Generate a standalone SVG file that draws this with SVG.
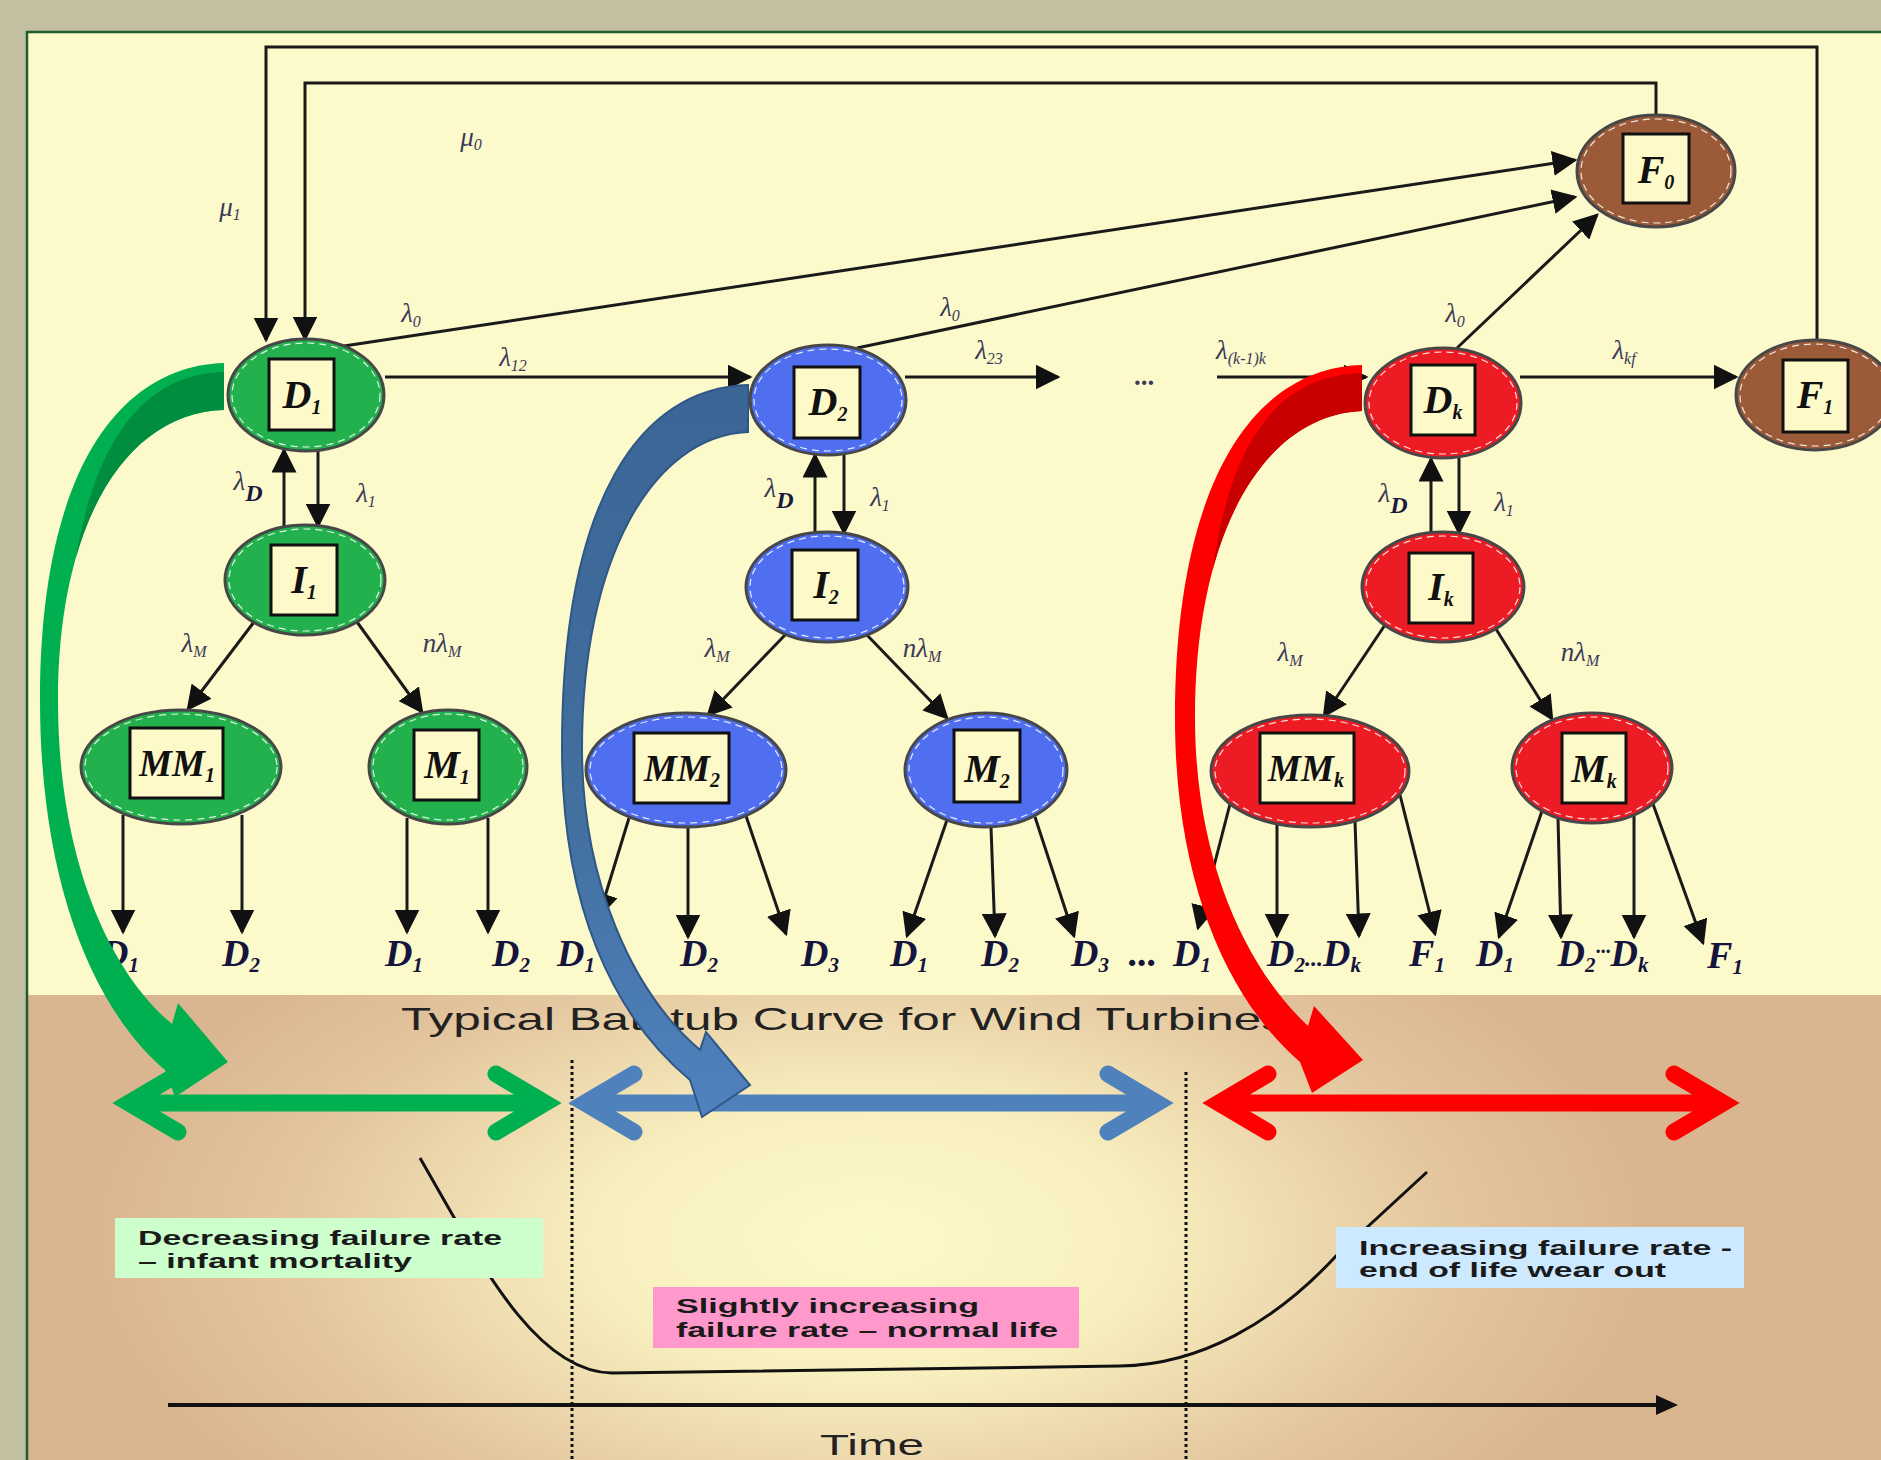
<svg xmlns="http://www.w3.org/2000/svg" width="1881" height="1460" viewBox="0 0 1881 1460">
<defs>
<style>
.ne{stroke:#474747;stroke-width:3}
.g{fill:#22b14c}.b{fill:#4f6ff0}.r{fill:#ed1c24}.br{fill:#9b5a38}
.dash{fill:none;stroke:#ffffff;stroke-width:1.2;stroke-dasharray:7 5;opacity:.85}
.box{fill:#fdf9c9;stroke:#111;stroke-width:3}
.nl{font-family:"Liberation Serif",serif;font-style:italic;font-weight:bold;font-size:40px;text-anchor:middle;fill:#111}
.mm{font-size:37px}
.sub{font-size:20px}
.cn{fill:none;stroke:#1a1a1a;stroke-width:3;marker-end:url(#ah)}
.lab{font-family:"Liberation Serif",serif;font-style:italic;font-size:27px;text-anchor:middle;fill:#3a3a58}
.ls{font-size:16px}
.bl{font-family:"Liberation Serif",serif;font-style:italic;font-weight:bold;font-size:38px;text-anchor:middle;fill:#14143c}
.bs{font-size:21px}
.bt{font-family:"Liberation Sans",Arial,sans-serif;font-weight:bold;font-size:20px;fill:#1a1a1a}
</style>
<marker id="ah" viewBox="0 0 10 10" refX="9" refY="5" markerWidth="25" markerHeight="25" markerUnits="userSpaceOnUse" orient="auto"><path d="M0,0 L10,5 L0,10 z" fill="#111"/></marker>
<radialGradient id="band" gradientUnits="userSpaceOnUse" cx="870" cy="1240" r="780" gradientTransform="translate(870,1240) scale(1,0.5) translate(-870,-1240)">
<stop offset="0" stop-color="#fdfaca"/>
<stop offset="0.35" stop-color="#f8efbe"/>
<stop offset="0.75" stop-color="#e3c59e"/>
<stop offset="1" stop-color="#dab690"/>
</radialGradient>
<linearGradient id="bgrad" gradientUnits="userSpaceOnUse" x1="0" y1="385" x2="0" y2="1117">
<stop offset="0" stop-color="#3b6596"/>
<stop offset="0.6" stop-color="#42709f"/>
<stop offset="1" stop-color="#5082c0"/>
</linearGradient>
</defs>

<rect x="0" y="0" width="1881" height="1460" fill="#c3bfa1"/>
<rect x="27" y="32" width="1854" height="963" fill="#fcf9cb"/>
<rect x="27" y="995" width="1854" height="465" fill="url(#band)"/>
<path d="M27,1460 V32 H1881" fill="none" stroke="#1d5e2c" stroke-width="2.5"/>

<g id="bathtub">
<text x="401" y="1030" font-family="Liberation Sans, Arial, sans-serif" font-size="32" fill="#222" textLength="885" lengthAdjust="spacingAndGlyphs">Typical Bathtub Curve for Wind Turbines</text>
<path d="M420,1158 C480,1262 535,1372 612,1373 L1120,1366 C1200,1365 1275,1322 1336,1256 L1427,1172" fill="none" stroke="#111" stroke-width="3"/>
<rect x="115" y="1218" width="428" height="60" fill="#ccffcc"/>
<text class="bt" x="138" y="1245" textLength="364" lengthAdjust="spacingAndGlyphs">Decreasing failure rate</text>
<text class="bt" x="138" y="1268" textLength="274" lengthAdjust="spacingAndGlyphs">– infant mortality</text>
<rect x="653" y="1287" width="426" height="61" fill="#ff99cc"/>
<text class="bt" x="676" y="1313" textLength="303" lengthAdjust="spacingAndGlyphs">Slightly increasing</text>
<text class="bt" x="676" y="1337" textLength="382" lengthAdjust="spacingAndGlyphs">failure rate – normal life</text>
<rect x="1336" y="1227" width="408" height="61" fill="#cce9ff"/>
<text class="bt" x="1359" y="1255" textLength="373" lengthAdjust="spacingAndGlyphs">Increasing failure rate -</text>
<text class="bt" x="1359" y="1277" textLength="307" lengthAdjust="spacingAndGlyphs">end of life wear out</text>
<path d="M572,1060 V1460 M1186,1072 V1460" fill="none" stroke="#111" stroke-width="3" stroke-dasharray="3 3"/>
<path d="M168,1405 H1660" stroke="#111" stroke-width="4"/>
<path d="M1678,1405 L1656,1395 L1656,1415 Z" fill="#111"/>
<text x="820" y="1455" font-family="Liberation Sans, Arial, sans-serif" font-size="30" fill="#222" textLength="104" lengthAdjust="spacingAndGlyphs">Time</text>
</g>

<g id="connectors">
<path class="cn" stroke="#3a3a3a" d="M1817,340 V47 H266 V340"/>
<path class="cn" stroke="#3a3a3a" d="M1656,115 V83 H305 V339"/>
<path class="cn" d="M344,346 L1575,160"/>
<path class="cn" d="M857,348 L1575,197"/>
<path class="cn" d="M1457,348 L1597,215"/>
<path class="cn" d="M385,377 L750,377"/>
<path class="cn" d="M905,377 L1058,377"/>
<path class="cn" d="M1217,377 L1366,377"/>
<path class="cn" d="M1520,377 L1736,377"/>
<path class="cn" d="M284,527 L284,450"/>
<path class="cn" d="M318,450 L318,526"/>
<path class="cn" d="M815,533 L815,455"/>
<path class="cn" d="M844,455 L844,533"/>
<path class="cn" d="M1431,533 L1431,459"/>
<path class="cn" d="M1459,458 L1459,533"/>
<path class="cn" d="M254,622 L188,709"/>
<path class="cn" d="M357,622 L422,712"/>
<path class="cn" d="M786,634 L708,715"/>
<path class="cn" d="M866,634 L947,718"/>
<path class="cn" d="M1385,625 L1324,716"/>
<path class="cn" d="M1496,629 L1552,719"/>
<path class="cn" d="M123,815 L123,932"/>
<path class="cn" d="M242,815 L242,932"/>
<path class="cn" d="M407,818 L407,932"/>
<path class="cn" d="M488,818 L488,932"/>
<path class="cn" d="M629,818 L599,916"/>
<path class="cn" d="M688,827 L688,937"/>
<path class="cn" d="M746,816 L786,934"/>
<path class="cn" d="M947,820 L907,936"/>
<path class="cn" d="M991,827 L995,936"/>
<path class="cn" d="M1035,817 L1074,936"/>
<path class="cn" d="M1230,804 L1198,928"/>
<path class="cn" d="M1277,824 L1277,936"/>
<path class="cn" d="M1355,821 L1359,936"/>
<path class="cn" d="M1400,795 L1435,934"/>
<path class="cn" d="M1542,811 L1499,937"/>
<path class="cn" d="M1558,818 L1561,937"/>
<path class="cn" d="M1634,815 L1634,937"/>
<path class="cn" d="M1653,804 L1703,943"/>
</g>

<g id="node-D1"><ellipse class="ne g" cx="306" cy="395" rx="78" ry="56"/><ellipse class="dash" cx="306" cy="395" rx="74" ry="52"/><rect class="box" x="269" y="359" width="65" height="71"/><text class="nl" x="302" y="408">D<tspan class="sub" dy="6">1</tspan></text></g>
<g id="node-I1"><ellipse class="ne g" cx="305" cy="580" rx="80" ry="55"/><ellipse class="dash" cx="305" cy="580" rx="76" ry="51"/><rect class="box" x="271" y="545" width="66" height="70"/><text class="nl" x="304" y="593">I<tspan class="sub" dy="6">1</tspan></text></g>
<g id="node-MM1"><ellipse class="ne g" cx="181" cy="767" rx="100" ry="57"/><ellipse class="dash" cx="181" cy="767" rx="96" ry="53"/><rect class="box" x="130" y="728" width="93" height="70"/><text class="nl mm" x="177" y="776">MM<tspan class="sub" dy="6">1</tspan></text></g>
<g id="node-M1"><ellipse class="ne g" cx="448" cy="767" rx="79" ry="57"/><ellipse class="dash" cx="448" cy="767" rx="75" ry="53"/><rect class="box" x="414" y="730" width="65" height="70"/><text class="nl" x="447" y="778">M<tspan class="sub" dy="6">1</tspan></text></g>

<g id="node-D2"><ellipse class="ne b" cx="828" cy="400" rx="78" ry="55"/><ellipse class="dash" cx="828" cy="400" rx="74" ry="51"/><rect class="box" x="794" y="367" width="66" height="71"/><text class="nl" x="828" y="415">D<tspan class="sub" dy="6">2</tspan></text></g>
<g id="node-I2"><ellipse class="ne b" cx="827" cy="587" rx="81" ry="55"/><ellipse class="dash" cx="827" cy="587" rx="77" ry="51"/><rect class="box" x="792" y="550" width="66" height="70"/><text class="nl" x="826" y="598">I<tspan class="sub" dy="6">2</tspan></text></g>
<g id="node-MM2"><ellipse class="ne b" cx="686" cy="770" rx="100" ry="57"/><ellipse class="dash" cx="686" cy="770" rx="96" ry="53"/><rect class="box" x="634" y="733" width="95" height="70"/><text class="nl mm" x="682" y="781">MM<tspan class="sub" dy="6">2</tspan></text></g>
<g id="node-M2"><ellipse class="ne b" cx="986" cy="770" rx="81" ry="57"/><ellipse class="dash" cx="986" cy="770" rx="77" ry="53"/><rect class="box" x="954" y="730" width="66" height="72"/><text class="nl" x="987" y="782">M<tspan class="sub" dy="6">2</tspan></text></g>

<g id="node-Dk"><ellipse class="ne r" cx="1443" cy="403" rx="78" ry="55"/><ellipse class="dash" cx="1443" cy="403" rx="74" ry="51"/><rect class="box" x="1411" y="365" width="64" height="70"/><text class="nl" x="1443" y="413">D<tspan class="sub" dy="6">k</tspan></text></g>
<g id="node-Ik"><ellipse class="ne r" cx="1443" cy="587" rx="81" ry="55"/><ellipse class="dash" cx="1443" cy="587" rx="77" ry="51"/><rect class="box" x="1409" y="553" width="64" height="70"/><text class="nl" x="1441" y="600">I<tspan class="sub" dy="6">k</tspan></text></g>
<g id="node-MMk"><ellipse class="ne r" cx="1310" cy="771" rx="99" ry="56"/><ellipse class="dash" cx="1310" cy="771" rx="95" ry="52"/><rect class="box" x="1260" y="733" width="94" height="70"/><text class="nl mm" x="1306" y="781">MM<tspan class="sub" dy="6">k</tspan></text></g>
<g id="node-Mk"><ellipse class="ne r" cx="1592" cy="768" rx="80" ry="55"/><ellipse class="dash" cx="1592" cy="768" rx="76" ry="51"/><rect class="box" x="1562" y="733" width="64" height="70"/><text class="nl" x="1594" y="782">M<tspan class="sub" dy="6">k</tspan></text></g>

<g id="node-F0"><ellipse class="ne br" cx="1656" cy="171" rx="79" ry="56"/><ellipse class="dash" cx="1656" cy="171" rx="75" ry="52"/><rect class="box" x="1623" y="134" width="66" height="69"/><text class="nl" x="1656" y="183">F<tspan class="sub" dy="6">0</tspan></text></g>
<g id="node-F1"><ellipse class="ne br" cx="1815" cy="395" rx="79" ry="55"/><ellipse class="dash" cx="1815" cy="395" rx="75" ry="51"/><rect class="box" x="1783" y="360" width="65" height="72"/><text class="nl" x="1815" y="408">F<tspan class="sub" dy="6">1</tspan></text></g>

<g id="edge-labels">
<text class="lab" x="471" y="146">μ<tspan class="ls" dy="4">0</tspan></text>
<text class="lab" x="230" y="216">μ<tspan class="ls" dy="4">1</tspan></text>
<text class="lab" x="411" y="322">λ<tspan class="ls" dy="5">0</tspan></text>
<text class="lab" x="513" y="366">λ<tspan class="ls" dy="5">12</tspan></text>
<text class="lab" x="950" y="316">λ<tspan class="ls" dy="5">0</tspan></text>
<text class="lab" x="989" y="359">λ<tspan class="ls" dy="5">23</tspan></text>
<text class="lab" x="1145" y="385" font-weight="bold" font-size="20">...</text>
<text class="lab" x="1241" y="359">λ<tspan class="ls" dy="5">(k-1)k</tspan></text>
<text class="lab" x="1455" y="322">λ<tspan class="ls" dy="5">0</tspan></text>
<text class="lab" x="1624" y="359">λ<tspan class="ls" dy="5">kf</tspan></text>
<text class="lab" x="248" y="490">λ<tspan dy="11" font-weight="bold" font-size="24" fill="#1a1a40">D</tspan></text>
<text class="lab" x="366" y="502">λ<tspan class="ls" dy="5">1</tspan></text>
<text class="lab" x="779" y="497">λ<tspan dy="11" font-weight="bold" font-size="24" fill="#1a1a40">D</tspan></text>
<text class="lab" x="880" y="506">λ<tspan class="ls" dy="5">1</tspan></text>
<text class="lab" x="1393" y="502">λ<tspan dy="11" font-weight="bold" font-size="24" fill="#1a1a40">D</tspan></text>
<text class="lab" x="1504" y="511">λ<tspan class="ls" dy="5">1</tspan></text>
<text class="lab" x="194" y="652">λ<tspan class="ls" dy="5">M</tspan></text>
<text class="lab" x="442" y="652">nλ<tspan class="ls" dy="5">M</tspan></text>
<text class="lab" x="717" y="657">λ<tspan class="ls" dy="5">M</tspan></text>
<text class="lab" x="922" y="657">nλ<tspan class="ls" dy="5">M</tspan></text>
<text class="lab" x="1290" y="661">λ<tspan class="ls" dy="5">M</tspan></text>
<text class="lab" x="1580" y="661">nλ<tspan class="ls" dy="5">M</tspan></text>
</g>

<g id="target-labels">
<text class="bl" x="120" y="966">D<tspan class="bs" dy="6">1</tspan></text>
<text class="bl" x="241" y="966">D<tspan class="bs" dy="6">2</tspan></text>
<text class="bl" x="404" y="966">D<tspan class="bs" dy="6">1</tspan></text>
<text class="bl" x="511" y="966">D<tspan class="bs" dy="6">2</tspan></text>
<text class="bl" x="576" y="966">D<tspan class="bs" dy="6">1</tspan></text>
<text class="bl" x="699" y="966">D<tspan class="bs" dy="6">2</tspan></text>
<text class="bl" x="820" y="966">D<tspan class="bs" dy="6">3</tspan></text>
<text class="bl" x="909" y="966">D<tspan class="bs" dy="6">1</tspan></text>
<text class="bl" x="1000" y="966">D<tspan class="bs" dy="6">2</tspan></text>
<text class="bl" x="1090" y="966">D<tspan class="bs" dy="6">3</tspan></text>
<text class="bl" x="1143" y="966" font-size="24">...</text>
<text class="bl" x="1192" y="966">D<tspan class="bs" dy="6">1</tspan></text>
<text class="bl" x="1314" y="966">D<tspan class="bs" dy="6">2</tspan><tspan dy="-6" font-size="24">...</tspan>D<tspan class="bs" dy="6">k</tspan></text>
<text class="bl" x="1427" y="966">F<tspan class="bs" dy="6">1</tspan></text>
<text class="bl" x="1495" y="966">D<tspan class="bs" dy="6">1</tspan></text>
<text class="bl" x="1603" y="966">D<tspan class="bs" dy="6">2</tspan><tspan dy="-14" font-size="20">···</tspan><tspan dy="8">D</tspan><tspan class="bs" dy="6">k</tspan></text>
<text class="bl" x="1725" y="968">F<tspan class="bs" dy="6">1</tspan></text>
</g>

<g id="phase-arrows" fill="none" stroke-linecap="round" stroke-linejoin="miter" stroke-width="17">
<path stroke="#00b050" d="M130,1103 H545 M178,1074 L129,1103 L178,1132 M496,1074 L545,1103 L496,1132"/>
<path stroke="#4f81bd" d="M585,1103 H1157 M634,1074 L585,1103 L634,1132 M1108,1074 L1157,1103 L1108,1132"/>
<path stroke="#ff0000" d="M1219,1103 H1723 M1268,1074 L1219,1103 L1268,1132 M1674,1074 L1723,1103 L1674,1132"/>
</g>

<g id="curved-arrows">
<path fill="#00b050" d="M224,363 C120,366 40,470 40,700 C40,880 92,1008 165,1070 L175,1097 L228,1062 L178,1003 L172,1024 C110,972 58,860 58,700 C58,520 128,412 224,410 Z"/>
<path fill="#008d3f" d="M224,372 C150,374 98,430 75.7,558 C102.3,464.7 156.8,411.4 224,410 Z"/>
<path fill="url(#bgrad)" stroke="#2f5785" stroke-width="2" d="M748,385 C640,388 562,500 562,748 C562,905 612,1015 690,1080 L702,1117 L750,1085 L706,1032 L700,1050 C632,992 582,880 582,748 C582,560 652,436 748,432 Z"/>
<path fill="#ff0000" d="M1362,365 C1255,368 1175,480 1175,718 C1175,880 1226,998 1300,1062 L1312,1093 L1363,1060 L1314,1006 L1308,1026 C1246,968 1195,860 1195,718 C1195,530 1265,415 1362,411 Z"/>
<path fill="#c80000" d="M1362,373 C1285,375 1232,430 1212.8,569.5 C1239.4,471 1294.1,413.8 1362,411 Z"/>
</g>
</svg>
